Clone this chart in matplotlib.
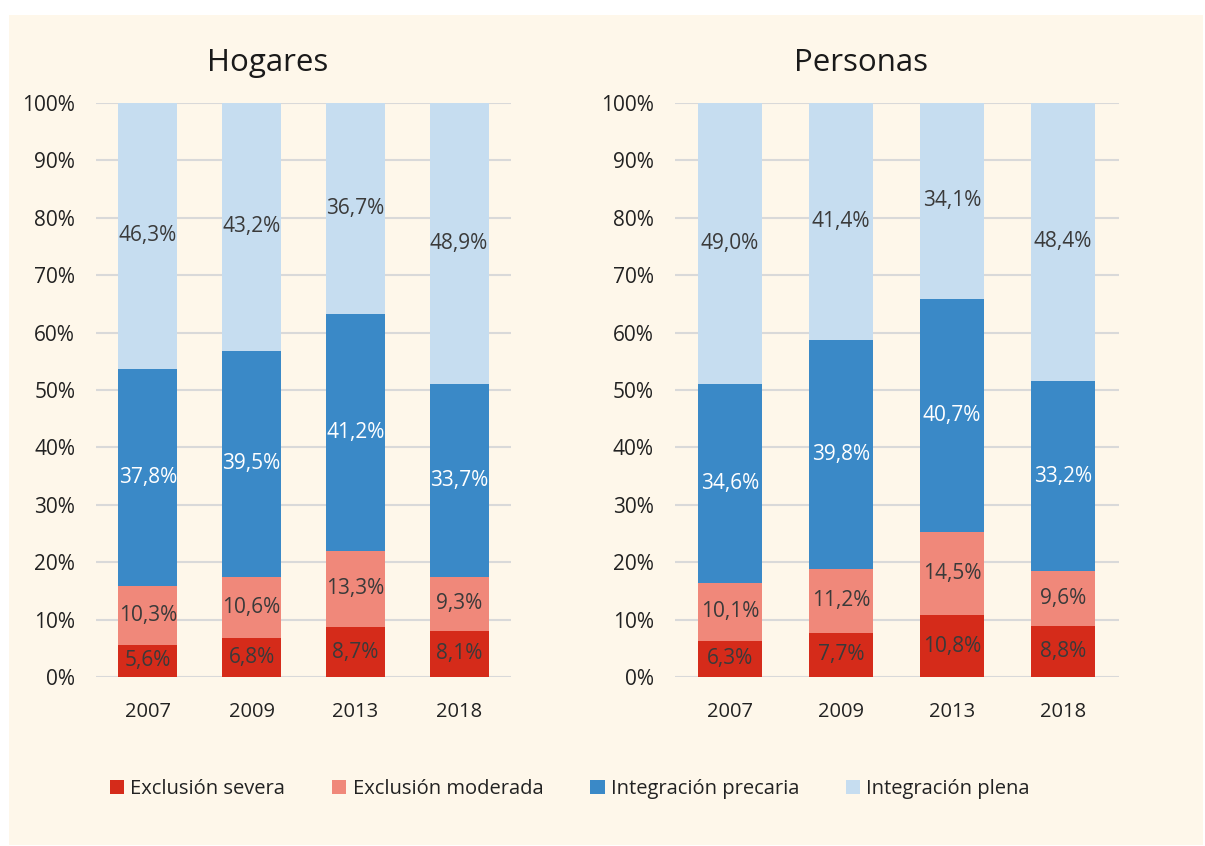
import matplotlib
matplotlib.use("Agg")
import matplotlib.pyplot as plt
from matplotlib.patches import Rectangle, Patch
import numpy as np

plt.rcParams['font.family'] = ['Open Sans', 'DejaVu Sans']

years = ["2007", "2009", "2013", "2018"]
series_names = ["Exclusión severa", "Exclusión moderada", "Integración precaria", "Integración plena"]
colors = ["#D52B1A", "#F0887A", "#3A89C7", "#C6DDF0"]
label_colors = ["#3a3a3a", "#3a3a3a", "#FFFFFF", "#3a3a3a"]

hogares_severa = [5.6, 6.8, 8.7, 8.1]
hogares_moderada = [10.3, 10.6, 13.3, 9.3]
hogares_precaria = [37.8, 39.5, 41.2, 33.7]
hogares_plena = [46.3, 43.2, 36.7, 48.9]

personas_severa = [6.3, 7.7, 10.8, 8.8]
personas_moderada = [10.1, 11.2, 14.5, 9.6]
personas_precaria = [34.6, 39.8, 40.7, 33.2]
personas_plena = [49.0, 41.4, 34.1, 48.4]

W, H = 1205, 846
fig = plt.figure(figsize=(W / 100, H / 100), dpi=100)
fig.patch.set_facecolor("white")
bg = "#FEF7EA"
fig.patches.append(Rectangle((9 / W, 1 - 845 / H), (1203 - 9) / W, (845 - 15) / H,
                             transform=fig.transFigure, facecolor=bg, edgecolor="none", zorder=-10))

def draw(ax, data, title, title_x):
    ax.set_facecolor("none")
    arr = np.array(data, dtype=float)
    totals = arr.sum(axis=0)
    norm = arr / totals * 100
    x = np.arange(len(years))
    bottom = np.zeros(len(years))
    for i, (vals, orig) in enumerate(zip(norm, arr)):
        ax.bar(x, vals, bottom=bottom, width=0.57, color=colors[i], zorder=3)
        for xi, b, v, o in zip(x, bottom, vals, orig):
            ax.text(xi, b + v / 2, f"{o:.1f}%".replace(".", ","), ha="center", va="center",
                    fontsize=15, color=label_colors[i], zorder=4)
        bottom += vals
    ax.set_xlim(-0.5, len(years) - 0.5)
    ax.set_ylim(0, 100)
    ax.set_yticks(np.arange(0, 101, 10))
    ax.set_yticklabels([f"{v}%" for v in range(0, 101, 10)])
    ax.set_xticks(x)
    ax.set_xticklabels(years)
    ax.grid(axis="y", color="#D9D9D9", linewidth=1.5, zorder=0)
    ax.set_axisbelow(True)
    for s in ax.spines.values():
        s.set_visible(False)
    ax.tick_params(axis="both", length=0, colors="#222222")
    ax.tick_params(axis="y", pad=15, labelsize=15)
    ax.tick_params(axis="x", pad=18, labelsize=14.5)
    fig.text(title_x, 1 - 63 / H, title, ha="center", va="center", fontsize=22.5, color="#1a1a1a")

ax1 = fig.add_axes([96 / W, 1 - 677 / H, 415 / W, 574 / H])
ax2 = fig.add_axes([674.5 / W, 1 - 677 / H, 444 / W, 574 / H])
draw(ax1, [hogares_severa, hogares_moderada, hogares_precaria, hogares_plena], "Hogares", 268 / W)
draw(ax2, [personas_severa, personas_moderada, personas_precaria, personas_plena], "Personas", 861 / W)

handles = [Patch(facecolor=c, edgecolor="none") for c in colors]
leg = fig.legend(handles, series_names, loc="center", bbox_to_anchor=(570 / W, 1 - 789 / H),
                 ncol=4, frameon=False, fontsize=14.5, handlelength=0.7, handleheight=0.7,
                 handletextpad=0.3, columnspacing=2.35)
for t in leg.get_texts():
    t.set_color("#222222")

fig.savefig("out.png", dpi=100, facecolor=fig.get_facecolor())
